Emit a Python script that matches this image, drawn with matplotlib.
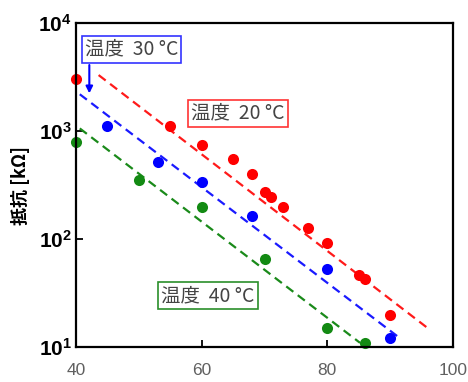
#!/usr/bin/env python3

import numpy as np
from matplotlib import pyplot as plt

plt.rcParams['font.family'] = ['Liberation Sans', 'Noto Sans CJK JP', 'DejaVu Sans']
plt.rcParams['mathtext.fontset'] = 'custom'
plt.rcParams['mathtext.rm'] = 'Liberation Sans'
plt.rcParams['mathtext.bf'] = 'Liberation Sans:bold'

# measured points (temperature series)
x20 = [40, 55, 60, 65, 68, 70, 71, 73, 77, 80, 85, 86, 90]
y20 = [3000, 1100, 740, 550, 400, 270, 245, 196, 128, 92, 47, 43, 20]
x30 = [45, 53, 60, 68, 80, 90]
y30 = [1100, 520, 335, 165, 53, 12.3]
x40 = [40, 50, 60, 70, 80, 86]
y40 = [790, 350, 196, 65, 15.1, 11]

# dashed fit lines (end points)
fit20_x = [43.6, 96.2]
fit20_y = [3280, 14.7]
fit30_x = [40.6, 91.75]
fit30_y = [2180, 11.9]
fit40_x = [40.6, 85.2]
fit40_y = [1054, 11.0]

xticks = [40, 60, 80, 100]
yticks = [10, 100, 1000, 10000]
ytick_labels = [r'$\mathbf{10^{1}}$', r'$\mathbf{10^{2}}$', r'$\mathbf{10^{3}}$', r'$\mathbf{10^{4}}$']


def main():
    fig = plt.figure(figsize=(4.68, 3.82), dpi=100)
    ax = fig.add_axes([0.1624, 0.0908, 0.8056, 0.8498])

    dash = dict(ls=(0, (4, 2.5)), lw=1.6)
    ax.plot(fit20_x, fit20_y, color='#ff1a1a', **dash)
    ax.plot(fit30_x, fit30_y, color='#1a1aff', **dash)
    ax.plot(fit40_x, fit40_y, color='#1a8a1a', **dash)

    ax.plot(x20, y20, 'o', color='#ff0000', ms=8, mec='none', clip_on=False)
    ax.plot(x30, y30, 'o', color='#0000ff', ms=8, mec='none', clip_on=False)
    ax.plot(x40, y40, 'o', color='#138a13', ms=8, mec='none', clip_on=False)

    ax.set_yscale('log')
    ax.set_xlim(40, 100)
    ax.set_ylim(10, 10000)
    ax.set_xticks(xticks)
    ax.set_xticklabels([str(t) for t in xticks], color='#606060', fontsize=12.5)
    ax.set_yticks(yticks)
    ax.set_yticklabels(ytick_labels, fontsize=15)
    ax.minorticks_off()
    ax.tick_params(direction='in', length=5, width=1.3)
    ax.tick_params(axis='x', pad=11)
    ax.tick_params(axis='y', pad=3)
    for s in ax.spines.values():
        s.set_linewidth(1.6)

    ax.set_ylabel('抵抗 [kΩ]', fontsize=13, fontweight='bold',
                  family=['Noto Sans CJK JP', 'DejaVu Sans'])
    ax.yaxis.set_label_coords(-0.122, 0.5)

    box = dict(boxstyle='square,pad=0.15', fc='white', lw=1.2)
    tfont = dict(fontsize=14, color='#444444', ha='center', va='center',
                 family=['Noto Sans CJK JP', 'DejaVu Sans'])
    ax.text(48.87, 5675, '温度  30 °C', bbox=dict(box, ec='#3333ff'), **tfont)
    ax.text(65.78, 1452, '温度  20 °C', bbox=dict(box, ec='#ff3333'), **tfont)
    ax.text(61.0, 30.0, '温度  40 °C', bbox=dict(box, ec='#2a8f2a'), **tfont)

    ax.annotate('', xy=(42.12, 2222), xytext=(42.12, 4064),
                arrowprops=dict(arrowstyle='-|>', color='#0000ff', lw=1.5,
                                mutation_scale=10, shrinkA=0, shrinkB=0))

    plt.savefig('out.png', dpi=100)


if __name__ == '__main__':
    main()
